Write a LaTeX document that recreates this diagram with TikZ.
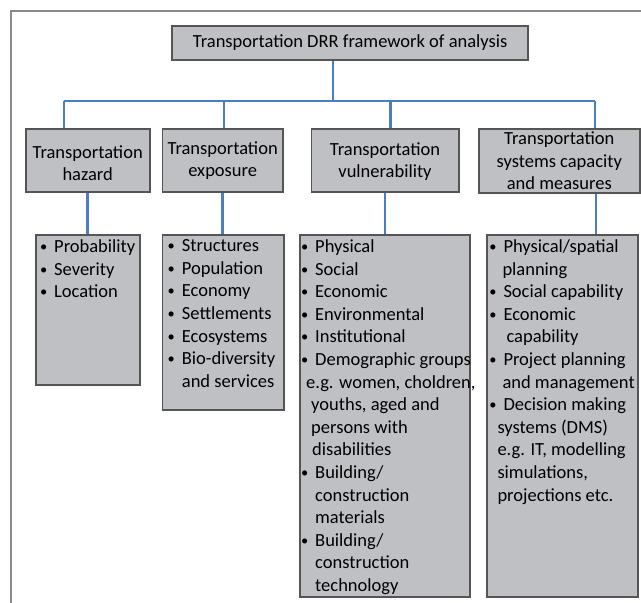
\documentclass[tikz,border=0pt]{standalone}
\usepackage{fontspec}
\setmainfont{Carlito}
\definecolor{boxfill}{HTML}{BFC0C4}
\definecolor{boxline}{HTML}{555555}
\definecolor{linkblue}{HTML}{4A7EC0}
\definecolor{framegray}{HTML}{8A8A8A}
% small bullet hanging to the left of the item text
\newcommand\bul{\llap{\raisebox{1.1pt}{\scalebox{0.78}{\textbullet}}\hspace{7pt}}}
\begin{document}
\begin{tikzpicture}[x=1pt,y=-1pt,
  box/.style={draw=boxline, fill=boxfill, line width=1.2pt, inner sep=0pt, align=center},
  heading/.style={inner sep=0pt, align=center},
  items/.style={inner sep=0pt, anchor=north west, align=left},
  link/.style={draw=linkblue, line width=2.7pt},
  font=\fontsize{18.5}{22.6}\selectfont]
\useasboundingbox (0,0) rectangle (641,603);

% open frame
\draw[framegray, line width=1.5pt] (641,11) -- (11,11) -- (11,603);

% connector junctions
\coordinate (top) at (333,101);
\coordinate (j1) at (64,101);
\coordinate (j2) at (224,101);
\coordinate (j3) at (390.5,101);
\coordinate (j4) at (595,101);
\coordinate (d1) at (87.7,0);
\coordinate (d2) at (222.7,0);
\coordinate (d3) at (385,0);
\coordinate (d4) at (596,0);

% boxes
\node[box, minimum width=355.7pt, minimum height=33.3pt] (title) at (350.2,42.8)
  {Transportation DRR framework of analysis};

\node[box, minimum width=123.3pt, minimum height=62.7pt] (h1) at (87.7,160.3) {};
\node[box, minimum width=120pt, minimum height=62.7pt] (h2) at (222.7,160.3) {};
\node[box, minimum width=146.6pt, minimum height=62.7pt] (h3) at (385,160.3) {};
\node[box, minimum width=160pt, minimum height=63.7pt] (h4) at (559.3,160.8)
  {Transportation\\systems capacity\\and measures};

\node[heading] (h1t) at (87.7,163) {Transportation\\hazard};
\node[heading] (h2t) at (222.7,160.5) {Transportation\\exposure};
\node[heading] (h3t) at (385,161.5) {Transportation\\vulnerability};

\node[box, minimum width=103.3pt, minimum height=149.3pt] (l1) at (87.7,309.7) {};
\node[box, minimum width=120.6pt, minimum height=175pt] (l2) at (223,322.5) {};
\node[box, minimum width=170pt, minimum height=361.7pt] (l3) at (385,415.9) {};
\node[box, minimum width=150.2pt, minimum height=362pt] (l4) at (562.4,416) {};

% connectors
\draw[link] (title.south -| top) -- (top);
\draw[link] (j1) -- (j4);
\draw[link] (j1) -- (j1 |- h1.north);
\draw[link] (j2) -- (j2 |- h2.north);
\draw[link] (j3) -- (j3 |- h3.north);
\draw[link] (j4) -- (j4 |- h4.north);
\draw[link] (h1.south -| d1) -- (l1.north -| d1);
\draw[link] (h2.south -| d2) -- (l2.north -| d2);
\draw[link] (h3.south -| d3) -- (l3.north -| d3);
\draw[link] (h4.south -| d4) -- (l4.north -| d4);

% redraw box outlines over connector ends
\foreach \n in {title,h1,h2,h3,h4,l1,l2,l3,l4}
  \draw[boxline, line width=1.2pt] (\n.north west) rectangle (\n.south east);

% item lists
\node[items] (t1) at (54,239.5)
  {\bul Probability\\ \bul Severity\\ \bul Location};
\node[items] (t2) at (181.7,239.5)
  {\bul Structures\\ \bul Population\\ \bul Economy\\ \bul Settlements\\
   \bul Ecosystems\\ \bul Bio-diversity\\ and services};
\node[items] (t3) at (315,239.5)
  {\bul Physical\\ \bul Social\\ \bul Economic\\ \bul Environmental\\
   \bul Institutional\\ \bul Demographic groups\\
   \hspace*{-9pt}e.g. women, choldren,\\ \hspace*{-4pt}youths, aged and\\
   \hspace*{-4pt}persons with\\ \hspace*{-3pt}disabilities\\
   \bul Building/\\ construction\\ materials\\
   \bul Building/\\ construction\\ technology};
\node[items] (t4) at (503.3,239.5)
  {\bul Physical/spatial\\ \hspace*{-1pt}planning\\ \bul Social capability\\
   \bul Economic\\ \hspace*{3pt}capability\\ \bul Project planning\\
   \hspace*{-1pt}and management\\ \bul Decision making\\
   \hspace*{-6pt}systems (DMS)\\ \hspace*{-6pt}e.g. IT, modelling\\
   \hspace*{-6pt}simulations,\\ \hspace*{-6pt}projections etc.};
\end{tikzpicture}
\end{document}
